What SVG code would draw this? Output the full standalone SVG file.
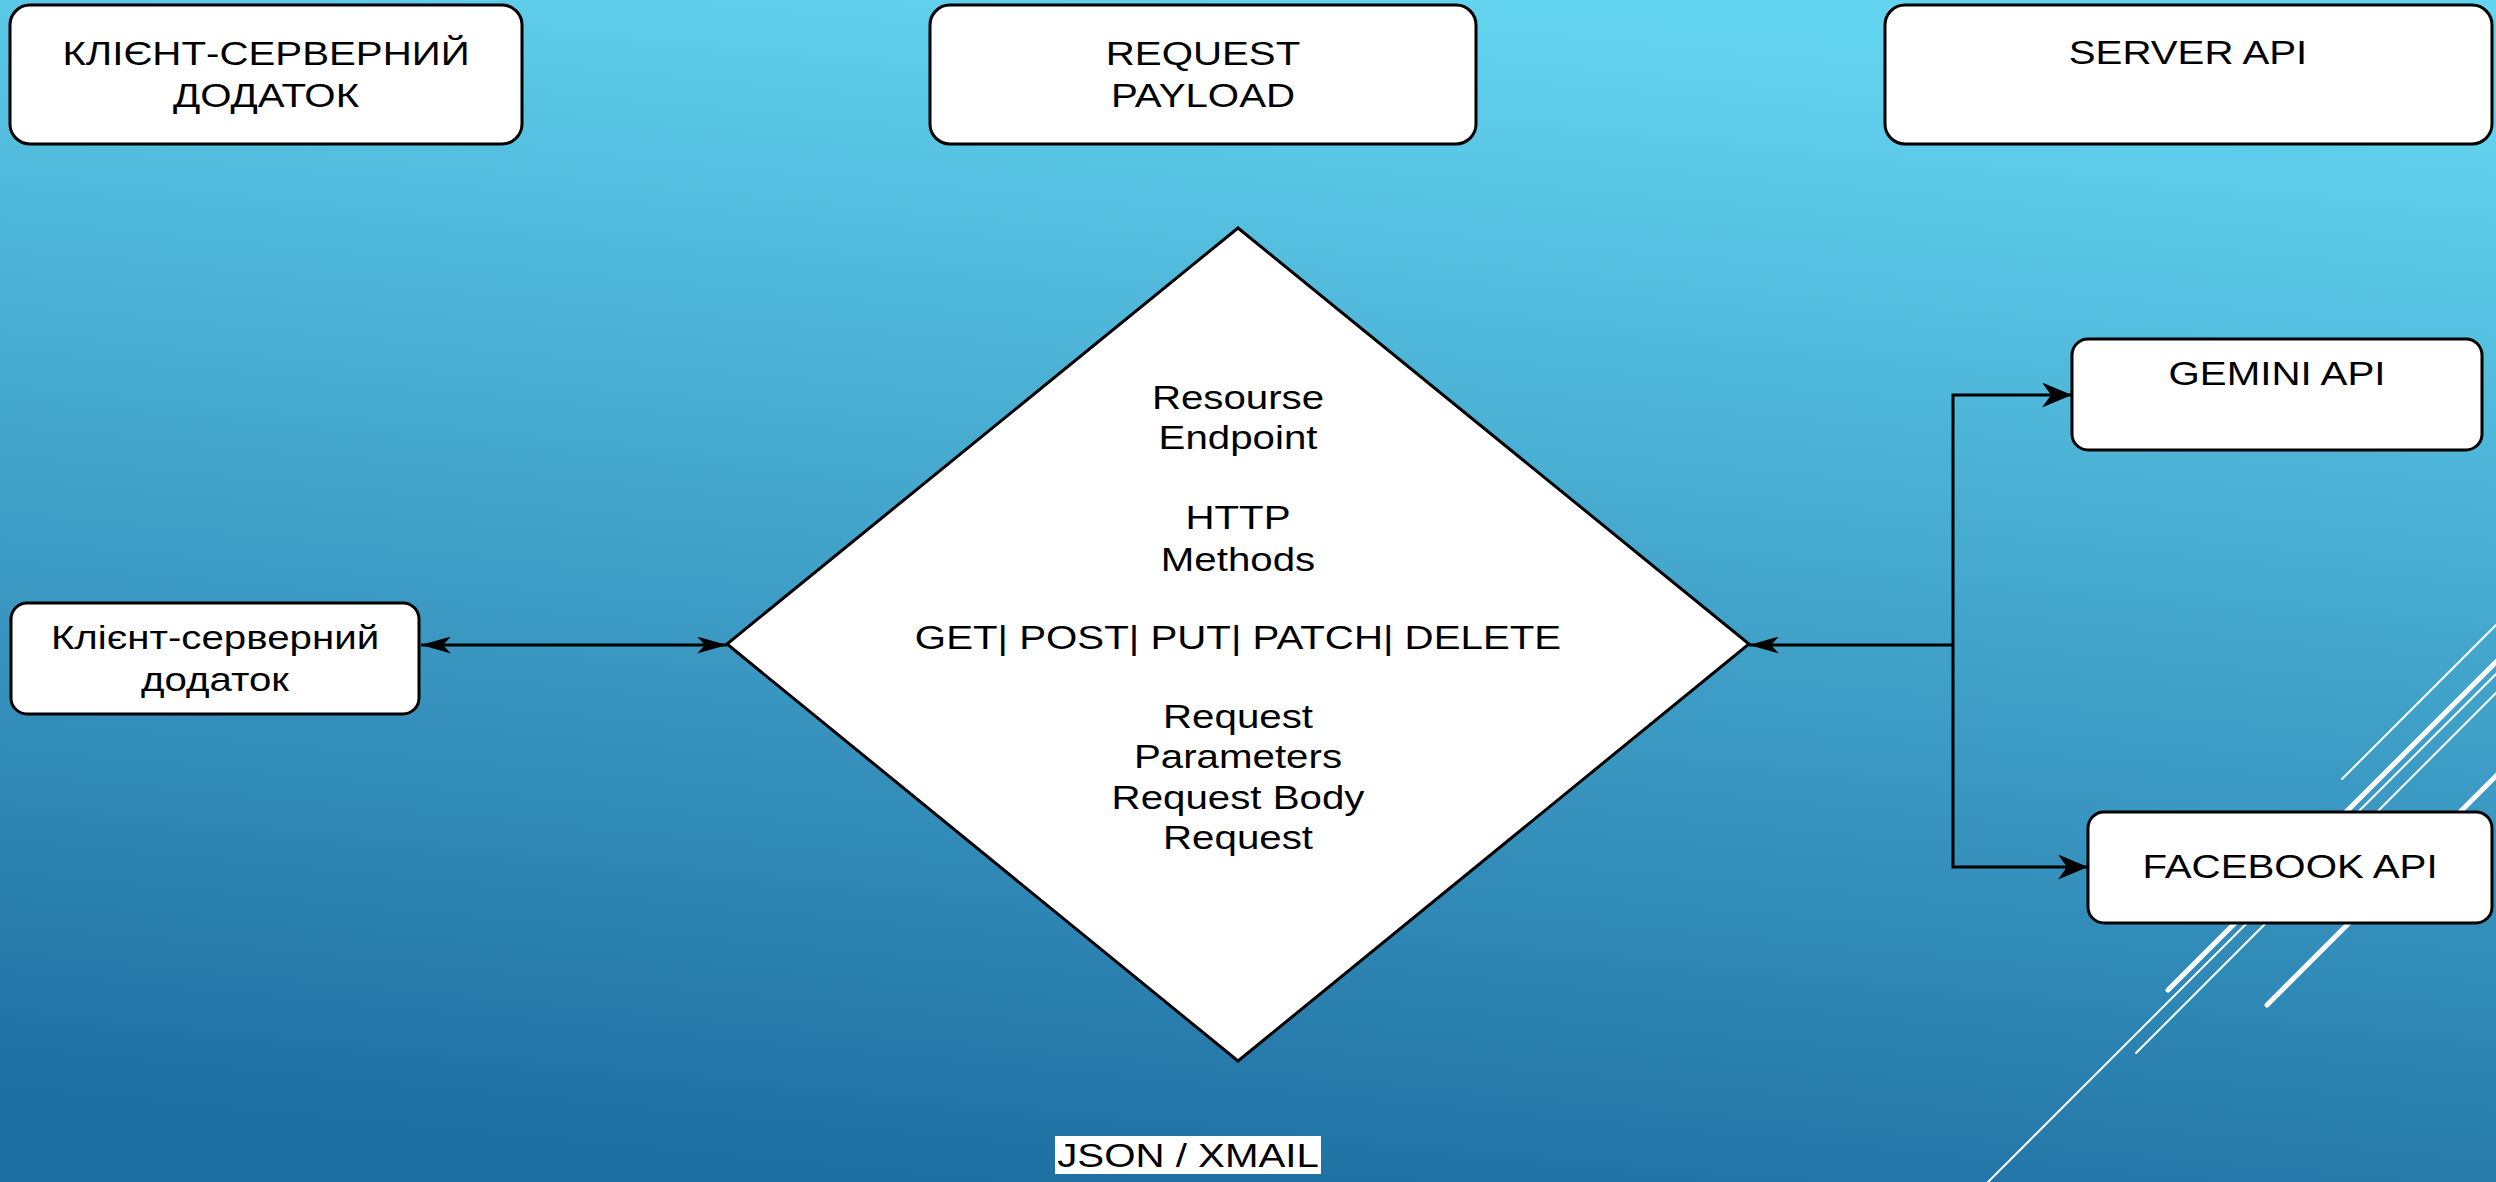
<svg xmlns="http://www.w3.org/2000/svg" width="2496" height="1182" viewBox="0 0 2496 1182">
<defs>
<linearGradient id="bg" x1="0.6" y1="0" x2="0.4" y2="1">
<stop offset="0" stop-color="#63d4f0"/>
<stop offset="1" stop-color="#1e6fa2"/>
</linearGradient>
<marker id="arrS" viewBox="0 0 30 17" refX="30" refY="8.5" markerWidth="30" markerHeight="17" orient="auto-start-reverse" markerUnits="userSpaceOnUse">
<path d="M0,0 L30,8.5 L0,17 L8,8.5 Z" fill="#000"/>
</marker>
<marker id="arrL" viewBox="0 0 30 25" refX="30" refY="12.5" markerWidth="30" markerHeight="25" orient="auto" markerUnits="userSpaceOnUse">
<path d="M0,0 L30,12.5 L0,25 L9,12.5 Z" fill="#000"/>
</marker>
</defs>
<style>
.box{fill:#fff;stroke:#000;stroke-width:3}
.t{font-family:"Liberation Sans",Arial,sans-serif;font-size:33px;fill:#000;text-anchor:middle}
.c{fill:none;stroke:#000;stroke-width:3}
.deco{stroke:#fff;fill:none;stroke-linecap:round}
.thin{stroke-width:2}
.thick{stroke-width:5}
</style>
<rect x="0" y="0" width="2496" height="1182" fill="url(#bg)"/>
<g id="decoration">
<line class="deco thin" x1="2342" y1="779" x2="2500" y2="621"/>
<line class="deco thick" x1="2168" y1="990" x2="2500" y2="658"/>
<line class="deco thin" x1="1986" y1="1184" x2="2500" y2="670"/>
<line class="deco thin" x1="2136" y1="1053" x2="2500" y2="689"/>
<line class="deco thick" x1="2267" y1="1005" x2="2500" y2="772"/>
</g>
<g id="connectors">
<line class="c" x1="421" y1="645" x2="727" y2="645" marker-start="url(#arrS)" marker-end="url(#arrS)"/>
<line class="c" x1="1953" y1="645" x2="1749" y2="645" marker-end="url(#arrS)"/>
<polyline class="c" points="1953,645 1953,395 2072,395" marker-end="url(#arrL)"/>
<polyline class="c" points="1953,645 1953,867 2088,867" marker-end="url(#arrL)"/>
</g>
<g id="node-client-header">
<rect class="box" x="10" y="5" width="512" height="139" rx="20"/>
<text class="t" transform="translate(266 0) scale(1.22 1)" x="0" y="65">КЛІЄНТ-СЕРВЕРНИЙ</text>
<text class="t" transform="translate(266 0) scale(1.22 1)" x="0" y="107">ДОДАТОК</text>
</g>
<g id="node-request-payload">
<rect class="box" x="930" y="5" width="546" height="139" rx="20"/>
<text class="t" transform="translate(1203 0) scale(1.22 1)" x="0" y="65">REQUEST</text>
<text class="t" transform="translate(1203 0) scale(1.22 1)" x="0" y="107">PAYLOAD</text>
</g>
<g id="node-server-api">
<rect class="box" x="1885" y="5" width="607" height="139" rx="20"/>
<text class="t" transform="translate(2188 0) scale(1.22 1)" x="0" y="64">SERVER API</text>
</g>
<g id="node-client">
<rect class="box" x="11" y="603" width="408" height="111" rx="16"/>
<text class="t" transform="translate(215 0) scale(1.22 1)" x="0" y="649">Клієнт-серверний</text>
<text class="t" transform="translate(215 0) scale(1.22 1)" x="0" y="691">додаток</text>
</g>
<g id="node-request">
<polygon class="box" points="1238,228 1749,644 1238,1061 727,644"/>
<g transform="translate(1238 0) scale(1.22 1)">
<text class="t" x="0" y="409">Resourse</text>
<text class="t" x="0" y="449">Endpoint</text>
<text class="t" x="0" y="529">HTTP</text>
<text class="t" x="0" y="571">Methods</text>
<text class="t" x="0" y="649">GET| POST| PUT| PATCH| DELETE</text>
<text class="t" x="0" y="728">Request</text>
<text class="t" x="0" y="768">Parameters</text>
<text class="t" x="0" y="809">Request Body</text>
<text class="t" x="0" y="849">Request</text>
</g>
</g>
<g id="node-gemini">
<rect class="box" x="2072" y="339" width="410" height="111" rx="16"/>
<text class="t" transform="translate(2277 0) scale(1.22 1)" x="0" y="385">GEMINI API</text>
</g>
<g id="node-facebook">
<rect class="box" x="2088" y="812" width="404" height="111" rx="16"/>
<text class="t" transform="translate(2290 0) scale(1.22 1)" x="0" y="878">FACEBOOK API</text>
</g>
<g id="label-json">
<rect x="1055" y="1136" width="266" height="38" fill="#fff"/>
<text class="t" transform="translate(1188 0) scale(1.22 1)" x="0" y="1167">JSON / XMAIL</text>
</g>
</svg>
